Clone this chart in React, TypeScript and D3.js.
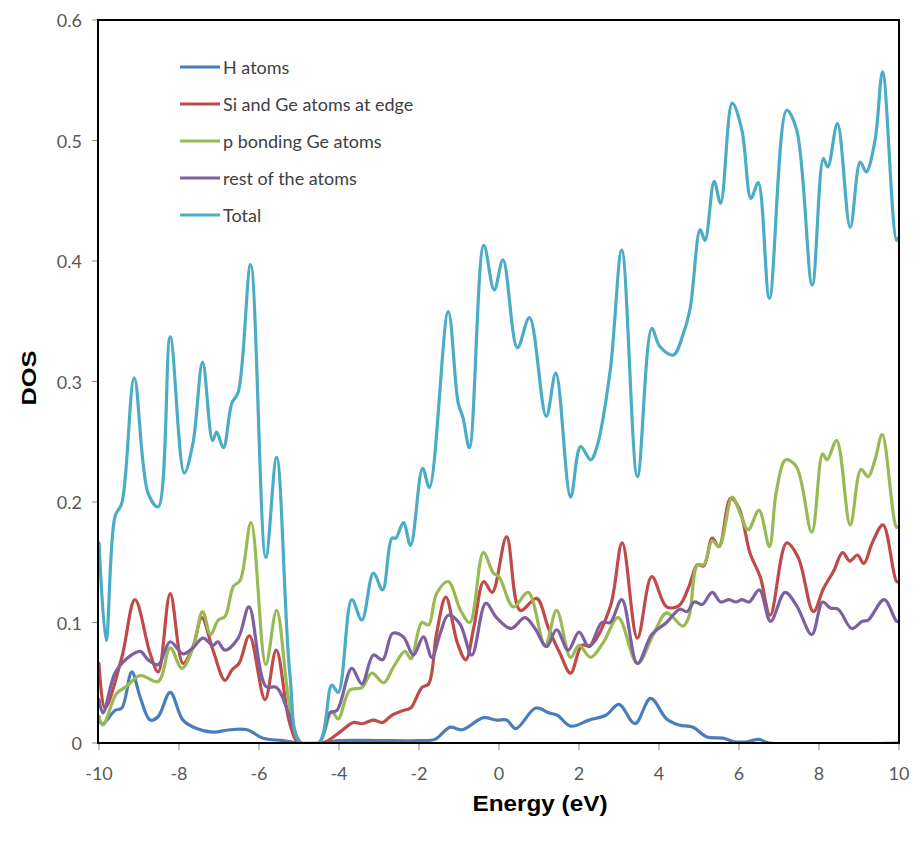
import React from "react";
import * as d3 from "d3";

type Pt = [number, number];

const seriesNames = ["H atoms", "Si and Ge atoms at edge", "p bonding Ge atoms", "rest of the atoms", "Total"];
const seriesColors = ["#4A7EBB", "#BE4B48", "#98B954", "#7D60A0", "#4BACC6"];

const xTicks = [-10, -8, -6, -4, -2, 0, 2, 4, 6, 8, 10];
const yTicks = [0, 0.1, 0.2, 0.3, 0.4, 0.5, 0.6];

const hAtoms: Pt[] = [
  [-10, 0.018], [-9.9, 0.016], [-9.6, 0.027], [-9.43, 0.029], [-9.18, 0.059], [-8.97, 0.038],
  [-8.72, 0.019], [-8.52, 0.022], [-8.22, 0.042], [-7.9, 0.019], [-7.56, 0.012], [-7.15, 0.009],
  [-6.72, 0.011], [-6.3, 0.011], [-5.9, 0.004], [-5.4, 0.002], [-5.0, 0], [-4.5, 0], [-4.0, 0.002],
  [-3.0, 0.002], [-2.0, 0.002], [-1.6, 0.003], [-1.23, 0.013], [-0.92, 0.011], [-0.39, 0.021],
  [-0.06, 0.019], [0.19, 0.019], [0.42, 0.012], [0.92, 0.029], [1.25, 0.025], [1.46, 0.023],
  [1.79, 0.014], [2.25, 0.019], [2.67, 0.023], [3.0, 0.032], [3.4, 0.016], [3.79, 0.037],
  [4.19, 0.02], [4.5, 0.015], [4.85, 0.013], [5.2, 0.005], [5.6, 0.004], [5.9, 0.001], [6.2, 0.001],
  [6.5, 0.003], [6.75, 0], [10, 0],
];

const edgeAtoms: Pt[] = [
  [-10, 0.066], [-9.85, 0.029], [-9.43, 0.071], [-9.1, 0.119], [-8.72, 0.074], [-8.52, 0.059],
  [-8.22, 0.124], [-7.9, 0.066], [-7.65, 0.08], [-7.43, 0.104], [-7.15, 0.077], [-6.85, 0.052],
  [-6.67, 0.061], [-6.5, 0.066], [-6.24, 0.089], [-5.85, 0.036], [-5.57, 0.077], [-5.23, 0.016],
  [-5.0, 0], [-4.4, 0], [-3.98, 0.009], [-3.64, 0.017], [-3.43, 0.016], [-3.14, 0.019], [-2.91, 0.017],
  [-2.68, 0.023], [-2.39, 0.027], [-2.21, 0.029], [-1.93, 0.046], [-1.76, 0.049], [-1.56, 0.091],
  [-1.33, 0.121], [-1.04, 0.083], [-0.83, 0.069], [-0.63, 0.096], [-0.38, 0.134], [-0.17, 0.125],
  [0.19, 0.171], [0.53, 0.11], [0.94, 0.12], [1.23, 0.096], [1.53, 0.074], [1.79, 0.058],
  [2.07, 0.081], [2.29, 0.081], [2.78, 0.113], [3.08, 0.166], [3.46, 0.087], [3.82, 0.138],
  [4.19, 0.113], [4.5, 0.114], [4.75, 0.13], [4.96, 0.148], [5.12, 0.147], [5.33, 0.17],
  [5.5, 0.163], [5.79, 0.203], [6.0, 0.195], [6.28, 0.157], [6.53, 0.138], [6.78, 0.106],
  [7.19, 0.166], [7.48, 0.154], [7.86, 0.109], [8.11, 0.128], [8.37, 0.143], [8.59, 0.158],
  [8.77, 0.151], [8.96, 0.156], [9.12, 0.149], [9.33, 0.166], [9.6, 0.181], [9.94, 0.134], [10, 0.134],
];

const pBonding: Pt[] = [
  [-10, 0.022], [-9.9, 0.015], [-9.56, 0.041], [-9.31, 0.047], [-8.97, 0.056], [-8.52, 0.051],
  [-8.22, 0.079], [-7.93, 0.062], [-7.65, 0.079], [-7.41, 0.109], [-7.21, 0.09], [-7.02, 0.102],
  [-6.85, 0.105], [-6.64, 0.13], [-6.47, 0.135], [-6.2, 0.183], [-5.83, 0.065], [-5.56, 0.11],
  [-5.23, 0.03], [-4.95, 0], [-4.5, 0], [-4.18, 0.026], [-4.02, 0.02], [-3.73, 0.044], [-3.43, 0.046],
  [-3.18, 0.058], [-2.88, 0.05], [-2.64, 0.063], [-2.35, 0.076], [-2.2, 0.07], [-1.93, 0.1],
  [-1.76, 0.098], [-1.56, 0.124], [-1.27, 0.134], [-0.96, 0.11], [-0.73, 0.1], [-0.39, 0.158],
  [-0.14, 0.141], [0.0, 0.138], [0.36, 0.113], [0.73, 0.125], [1.15, 0.081], [1.44, 0.11],
  [1.79, 0.071], [2.0, 0.081], [2.29, 0.071], [2.6, 0.083], [2.98, 0.104], [3.46, 0.066],
  [3.86, 0.09], [4.19, 0.108], [4.6, 0.097], [4.75, 0.105], [4.96, 0.148], [5.12, 0.148],
  [5.33, 0.168], [5.5, 0.163], [5.83, 0.204], [6.0, 0.193], [6.23, 0.177], [6.5, 0.193],
  [6.76, 0.163], [6.93, 0.208], [7.17, 0.235], [7.44, 0.229], [7.82, 0.175], [8.09, 0.24],
  [8.2, 0.235], [8.44, 0.251], [8.78, 0.181], [9.05, 0.227], [9.23, 0.221], [9.4, 0.235],
  [9.58, 0.256], [9.94, 0.179], [10, 0.18],
];

const restAtoms: Pt[] = [
  [-10, 0.036], [-9.9, 0.025], [-9.6, 0.058], [-9.31, 0.07], [-8.97, 0.076], [-8.77, 0.069],
  [-8.52, 0.065], [-8.22, 0.084], [-7.9, 0.074], [-7.65, 0.079], [-7.4, 0.087], [-7.15, 0.081],
  [-7.03, 0.084], [-6.85, 0.077], [-6.52, 0.087], [-6.25, 0.113], [-5.83, 0.047], [-5.56, 0.046],
  [-5.23, 0.022], [-4.95, 0], [-4.5, 0], [-4.23, 0.025], [-4.05, 0.027], [-3.68, 0.062],
  [-3.43, 0.049], [-3.14, 0.073], [-2.91, 0.069], [-2.66, 0.091], [-2.39, 0.088], [-2.14, 0.073],
  [-1.89, 0.088], [-1.68, 0.071], [-1.47, 0.091], [-1.27, 0.106], [-0.98, 0.099], [-0.68, 0.073],
  [-0.33, 0.116], [-0.06, 0.104], [0.3, 0.095], [0.65, 0.104], [0.9, 0.095], [1.19, 0.08],
  [1.44, 0.094], [1.73, 0.077], [2.0, 0.092], [2.25, 0.08], [2.57, 0.1], [2.78, 0.1],
  [3.07, 0.119], [3.46, 0.066], [3.82, 0.09], [4.19, 0.1], [4.52, 0.111], [4.7, 0.109],
  [4.88, 0.117], [5.08, 0.115], [5.33, 0.125], [5.54, 0.117], [5.75, 0.119], [5.92, 0.117],
  [6.08, 0.119], [6.25, 0.117], [6.51, 0.127], [6.79, 0.101], [7.15, 0.125], [7.44, 0.114],
  [7.82, 0.09], [8.09, 0.117], [8.28, 0.112], [8.48, 0.111], [8.82, 0.095], [9.08, 0.101],
  [9.23, 0.102], [9.63, 0.119], [9.94, 0.101], [10, 0.101],
];

const totalDos: Pt[] = [
  [-10, 0.166], [-9.82, 0.085], [-9.6, 0.188], [-9.43, 0.199], [-9.12, 0.303], [-8.77, 0.207],
  [-8.52, 0.196], [-8.22, 0.337], [-7.87, 0.224], [-7.65, 0.249], [-7.41, 0.316], [-7.16, 0.251],
  [-7.06, 0.258], [-6.89, 0.245], [-6.68, 0.282], [-6.52, 0.291], [-6.21, 0.397], [-5.83, 0.154],
  [-5.56, 0.237], [-5.23, 0.058], [-4.97, 0], [-4.5, 0], [-4.18, 0.048], [-4.02, 0.042],
  [-3.68, 0.119], [-3.43, 0.102], [-3.14, 0.141], [-2.91, 0.127], [-2.68, 0.17], [-2.58, 0.17],
  [-2.39, 0.183], [-2.21, 0.164], [-1.91, 0.228], [-1.74, 0.212], [-1.27, 0.358], [-1.02, 0.282],
  [-0.9, 0.27], [-0.74, 0.245], [-0.38, 0.413], [-0.12, 0.376], [0.1, 0.401], [0.46, 0.328],
  [0.76, 0.353], [1.18, 0.271], [1.42, 0.307], [1.79, 0.204], [2.04, 0.246], [2.29, 0.235],
  [2.45, 0.246], [2.78, 0.309], [3.07, 0.409], [3.46, 0.221], [3.82, 0.344], [4.02, 0.329],
  [4.36, 0.322], [4.61, 0.34], [4.78, 0.361], [5.03, 0.426], [5.15, 0.417], [5.38, 0.466],
  [5.54, 0.448], [5.83, 0.531], [6.07, 0.509], [6.3, 0.452], [6.48, 0.465], [6.76, 0.369],
  [7.19, 0.525], [7.44, 0.509], [7.83, 0.38], [8.11, 0.485], [8.22, 0.478], [8.46, 0.514],
  [8.78, 0.428], [9.03, 0.482], [9.18, 0.474], [9.4, 0.5], [9.59, 0.557], [9.94, 0.417], [10, 0.42],
];

const allSeries = [hAtoms, edgeAtoms, pBonding, restAtoms, totalDos];

const W = 916;
const H = 848;
const plot = { left: 99, right: 899, top: 20, bottom: 743 };

export default function App() {
  const x = d3.scaleLinear().domain([-10, 10]).range([plot.left, plot.right]);
  const y = d3.scaleLinear().domain([0, 0.6]).range([plot.bottom, plot.top]);
  const line = d3
    .line<Pt>()
    .x((d) => x(d[0]))
    .y((d) => Math.min(plot.bottom, y(d[1])))
    .curve(d3.curveCatmullRom.alpha(0.5));

  const tickFont = "Lato, 'Open Sans', sans-serif";
  const legendY = d3.scalePoint<string>().domain(seriesNames).range([67, 215]);

  return (
    <svg
      width={W}
      height={H}
      style={{ position: "absolute", left: 0, top: 0, background: "#fff" }}
    >
      <rect x={0} y={0} width={W} height={H} fill="#fff" />
      <defs>
        <clipPath id="clip">
          <rect x={plot.left} y={plot.top} width={plot.right - plot.left} height={plot.bottom - plot.top} />
        </clipPath>
      </defs>
      {/* y ticks */}
      {yTicks.map((t) => (
        <g key={"y" + t}>
          <line x1={plot.left - 7} x2={plot.left} y1={y(t)} y2={y(t)} stroke="#888" strokeWidth={1} />
          <text
            x={plot.left - 17}
            y={y(t)}
            textAnchor="end"
            dominantBaseline="central"
            fontFamily={tickFont}
            fontSize={18}
            fill="#595959"
          >
            {t === 0 ? "0" : d3.format(".1f")(t)}
          </text>
        </g>
      ))}
      {/* x ticks */}
      {xTicks.map((t) => (
        <g key={"x" + t}>
          <line x1={x(t)} x2={x(t)} y1={plot.bottom} y2={plot.bottom + 7} stroke="#888" strokeWidth={1} />
          <text
            x={x(t)}
            y={plot.bottom + 30}
            textAnchor="middle"
            dominantBaseline="central"
            fontFamily={tickFont}
            fontSize={18}
            fill="#595959"
          >
            {String(t)}
          </text>
        </g>
      ))}
      {/* series */}
      <g clipPath="url(#clip)">
        {allSeries.map((s, i) => (
          <path
            key={seriesNames[i]}
            d={line(s) || ""}
            fill="none"
            stroke={seriesColors[i]}
            strokeWidth={3.2}
            strokeLinejoin="round"
            strokeLinecap="round"
          />
        ))}
      </g>
      {/* frame */}
      <rect
        x={plot.left - 1}
        y={plot.top}
        width={plot.right - plot.left + 1}
        height={plot.bottom - plot.top}
        fill="none"
        stroke="#000"
        strokeWidth={2}
      />
      {/* legend */}
      {seriesNames.map((n, i) => (
        <g key={"lg" + n}>
          <line
            x1={180}
            x2={220}
            y1={legendY(n)}
            y2={legendY(n)}
            stroke={seriesColors[i]}
            strokeWidth={3}
          />
          <text
            x={223}
            y={legendY(n)}
            dominantBaseline="central"
            fontFamily={tickFont}
            fontSize={18}
            fill="#404040"
          >
            {n}
          </text>
        </g>
      ))}
      {/* axis titles */}
      <text
        transform="translate(28,378) rotate(-90)"
        textAnchor="middle"
        dominantBaseline="central"
        fontFamily="'Liberation Sans', Arial, sans-serif"
        fontWeight="bold"
        fontSize={21}
        fill="#000"
        textLength={55}
        lengthAdjust="spacingAndGlyphs"
      >
        DOS
      </text>
      <text
        x={540}
        y={803}
        textAnchor="middle"
        dominantBaseline="central"
        fontFamily="'Liberation Sans', Arial, sans-serif"
        fontWeight="bold"
        fontSize={22}
        fill="#000"
        textLength={135}
        lengthAdjust="spacingAndGlyphs"
      >
        Energy (eV)
      </text>
    </svg>
  );
}
